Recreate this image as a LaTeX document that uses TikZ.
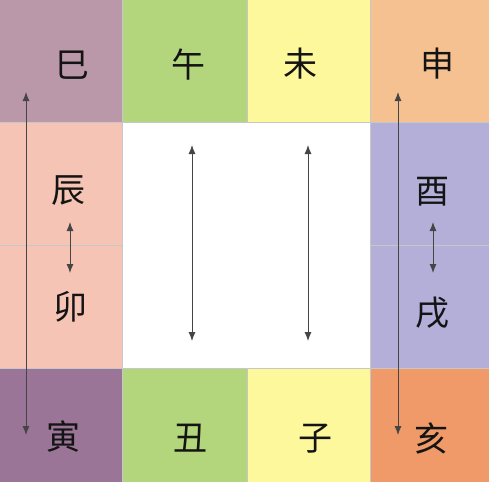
\documentclass[tikz,border=0pt]{standalone}
\usepackage{fontspec}
\newfontfamily\cjk{Noto Sans CJK SC}
\usetikzlibrary{arrows.meta}
\definecolor{cSi}{HTML}{BA98AA}
\definecolor{cYin}{HTML}{9B7597}
\definecolor{cGreen}{HTML}{B3D67C}
\definecolor{cYellow}{HTML}{FDF89C}
\definecolor{cShen}{HTML}{F6C190}
\definecolor{cHai}{HTML}{EF9A68}
\definecolor{cPink}{HTML}{F6C4B4}
\definecolor{cLav}{HTML}{B4AFD8}
\definecolor{cArrow}{HTML}{454545}
\tikzset{
  cell/.style={draw=black!22, line width=0.6pt},
  lbl/.style={font=\cjk\fontsize{34}{34}\selectfont, text=black!92, inner sep=0pt},
  dbl/.style={cArrow, line width=0.9pt, {Latex[length=9pt,width=7pt]}-{Latex[length=9pt,width=7pt]}}
}
\begin{document}
\begin{tikzpicture}[x=1pt,y=-1pt]
\useasboundingbox (0,0) rectangle (489,482);
% cells
\fill[cSi]    (0,0) rectangle (122,122);
\fill[cGreen] (122,0) rectangle (247,122);
\fill[cYellow](247,0) rectangle (370,122);
\fill[cShen]  (370,0) rectangle (489,122);
\fill[cPink]  (0,122) rectangle (122,368);
\fill[white]  (122,122) rectangle (370,368);
\fill[cLav]   (370,122) rectangle (489,368);
\fill[cYin]   (0,368) rectangle (122,482);
\fill[cGreen] (122,368) rectangle (247,482);
\fill[cYellow](247,368) rectangle (370,482);
\fill[cHai]   (370,368) rectangle (489,482);
% grid lines
\draw[cell] (0,122) -- (122,122) (370,122) -- (489,122);
\draw[cell] (0,245) -- (122,245) (370,245) -- (489,245);
\draw[cell] (0,368) -- (122,368) (370,368) -- (489,368);
\draw[cell] (122,0) -- (122,482) (370,0) -- (370,482);
\draw[cell] (247,0) -- (247,122) (247,368) -- (247,482);
\draw[cell] (122,122) -- (370,122) (122,368) -- (370,368);
% labels
\node[lbl] (si)   at (72,65)  {巳};
\node[lbl] (wu)   at (188,65) {午};
\node[lbl] (wei)  at (300,64) {未};
\node[lbl] (shen) at (437,64) {申};
\node[lbl] (chen) at (68,191) {辰};
\node[lbl] (mao)  at (70,307) {卯};
\node[lbl] (you)  at (432,192){酉};
\node[lbl] (xu)   at (432,313){戌};
\node[lbl] (yin)  at (63,437) {寅};
\node[lbl] (chou) at (190,438){丑};
\node[lbl] (zi)   at (315,439){子};
\node[lbl] (hai)  at (431,438){亥};
% arrow end points
\coordinate (l1t) at (26,92);  \coordinate (l1b) at (26,435);
\coordinate (l2t) at (70,222); \coordinate (l2b) at (70,273);
\coordinate (c1t) at (192,145);\coordinate (c1b) at (192,341);
\coordinate (c2t) at (308,145);\coordinate (c2b) at (308,341);
\coordinate (r1t) at (398,92); \coordinate (r1b) at (398,435);
\coordinate (r2t) at (433,222);\coordinate (r2b) at (433,273);
\draw[dbl] (l1t) -- (l1b);
\draw[dbl] (l2t) -- (l2b);
\draw[dbl] (c1t) -- (c1b);
\draw[dbl] (c2t) -- (c2b);
\draw[dbl] (r1t) -- (r1b);
\draw[dbl] (r2t) -- (r2b);
\end{tikzpicture}
\end{document}
